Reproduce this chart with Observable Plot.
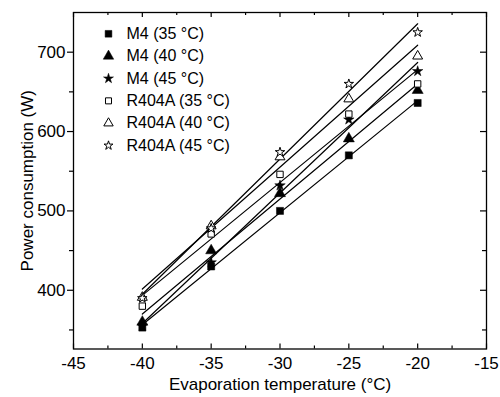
<!DOCTYPE html>
<html>
<head>
<meta charset="utf-8">
<script src="https://cdn.jsdelivr.net/npm/d3@7"></script>
<script src="https://cdn.jsdelivr.net/npm/@observablehq/plot@0.6"></script>
<style>
  html, body { margin: 0; padding: 0; background: #fff; }
  #chart svg { display: block; }
</style>
</head>
<body>
<div id="chart"></div>
<script>
// ---- data ----
const temps = [-40, -35, -30, -25, -20];
const seriesNames = ["M4 (35 °C)", "M4 (40 °C)", "M4 (45 °C)", "R404A (35 °C)", "R404A (40 °C)", "R404A (45 °C)"];
const m4_35 = [353, 430, 500, 570, 636];
const m4_40 = [360, 450, 522, 591, 652];
const m4_45 = [355, 435, 532, 615, 676];
const r404a_35 = [380, 471, 546, 622, 660];
const r404a_40 = [391, 481, 568, 641, 695];
const r404a_45 = [390, 478, 574, 660, 725];
const seriesValues = [m4_35, m4_40, m4_45, r404a_35, r404a_40, r404a_45];
const seriesSymbols = ["square", "triangle", "star", "square", "triangle", "star"];
const seriesFilled = [true, true, true, false, false, false];

const xMajor = [-45, -40, -35, -30, -25, -20, -15];
const xMinor = [-42.5, -37.5, -32.5, -27.5, -22.5, -17.5];
const yMajor = [400, 500, 600, 700];
const yMinor = [350, 450, 550, 650];
const xLabel = "Evaporation temperature (°C)";
const yLabel = "Power consumption (W)";

// ---- layout ----
const W = 500, H = 397;
const mL = 73, mR = 14, mT = 12, mB = 48.5;
const fW = W - mL - mR, fH = H - mT - mB;
const font = "'Liberation Sans', Arial, Helvetica, sans-serif";

const rows = [];
seriesValues.forEach((vals, s) => {
  vals.forEach((v, i) => rows.push({series: seriesNames[s], idx: s, x: temps[i], y: v}));
});

const symSize = {square: 4, triangle: 4.1, star: 3.3};

const marks = [];
// regression lines
marks.push(Plot.linearRegressionY(rows, {x: "x", y: "y", z: "series", ci: 0, stroke: "black", strokeWidth: 1.2}));
// points per series (later series on top)
seriesNames.forEach((name, s) => {
  const sym = seriesSymbols[s];
  marks.push(Plot.dot(rows.filter(d => d.idx === s), {
    x: "x", y: "y", symbol: () => sym, r: symSize[sym] * (seriesFilled[s] ? 1 : 0.9),
    fill: seriesFilled[s] ? "black" : "white", stroke: "black", strokeWidth: seriesFilled[s] ? 0.5 : 1
  }));
});
// legend
seriesNames.forEach((name, s) => {
  const sym = seriesSymbols[s];
  const dy = 21.3 + s * 22.35;
  marks.push(Plot.dot([name], {
    frameAnchor: "top-left", dx: 35, dy, symbol: () => sym, r: symSize[sym] * (seriesFilled[s] ? 0.95 : 0.85),
    fill: seriesFilled[s] ? "black" : "white", stroke: "black", strokeWidth: seriesFilled[s] ? 0.5 : 1
  }));
  marks.push(Plot.text([name], {
    frameAnchor: "top-left", dx: 53, dy, text: d => d, textAnchor: "start", lineAnchor: "middle",
    fontSize: 16, fill: "black"
  }));
});
// frame
marks.push(Plot.frame({stroke: "black", strokeWidth: 1.3}));
// ticks: bottom & top inward
marks.push(Plot.ruleX(xMajor, {x: d => d, insetTop: fH - 5, stroke: "black", strokeWidth: 1.2}));
marks.push(Plot.ruleX(xMinor, {x: d => d, insetTop: fH - 3, stroke: "black", strokeWidth: 1.2}));
marks.push(Plot.ruleX(xMajor, {x: d => d, insetBottom: fH - 5, stroke: "black", strokeWidth: 1.2}));
marks.push(Plot.ruleX(xMinor, {x: d => d, insetBottom: fH - 3, stroke: "black", strokeWidth: 1.2}));
// left outward, right inward
marks.push(Plot.ruleY(yMajor, {y: d => d, insetLeft: -6, insetRight: fW, stroke: "black", strokeWidth: 1.2}));
marks.push(Plot.ruleY(yMinor, {y: d => d, insetLeft: -4, insetRight: fW, stroke: "black", strokeWidth: 1.2}));
marks.push(Plot.ruleY(yMajor, {y: d => d, insetLeft: fW - 6, stroke: "black", strokeWidth: 1.2}));
marks.push(Plot.ruleY(yMinor, {y: d => d, insetLeft: fW - 4, stroke: "black", strokeWidth: 1.2}));
// tick labels
marks.push(Plot.text(xMajor, {x: d => d, frameAnchor: "bottom", dy: 15, text: d => String(d), textAnchor: "middle", lineAnchor: "middle", fontSize: 17, fill: "black"}));
marks.push(Plot.text(yMajor, {y: d => d, frameAnchor: "left", dx: -8, text: d => String(d), textAnchor: "end", lineAnchor: "middle", fontSize: 17, fill: "black"}));
// axis titles
marks.push(Plot.text([xLabel], {frameAnchor: "bottom", dy: 36, text: d => d, textAnchor: "middle", lineAnchor: "middle", fontSize: 17, fill: "black"}));
marks.push(Plot.text([yLabel], {frameAnchor: "left", dx: -46, rotate: -90, text: d => d, textAnchor: "middle", lineAnchor: "middle", fontSize: 17, fill: "black"}));

const chart = Plot.plot({
  width: W, height: H,
  marginLeft: mL, marginRight: mR, marginTop: mT, marginBottom: mB,
  x: {domain: [-45, -15], axis: null},
  y: {domain: [326, 750], axis: null},
  style: {fontFamily: font, background: "white", overflow: "visible"},
  marks
});
document.getElementById("chart").appendChild(chart);
</script>
</body>
</html>
